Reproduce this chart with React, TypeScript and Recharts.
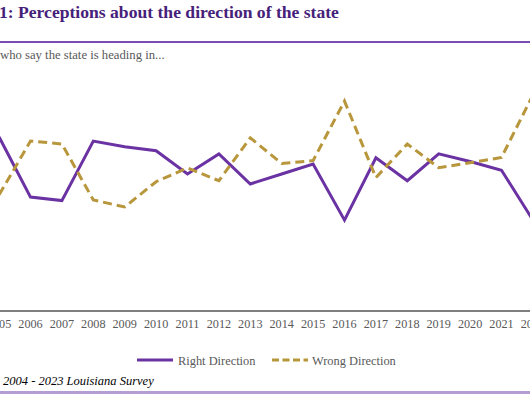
import React from 'react';
import { Line, LineChart, XAxis, YAxis } from 'recharts';

const YEARS = [2005, 2006, 2007, 2008, 2009, 2010, 2011, 2012, 2013, 2014, 2015, 2016, 2017, 2018, 2019, 2020, 2021, 2022];
const RIGHT_DIRECTION = [54.4, 35.6, 34.5, 53.1, 51.3, 50.1, 42.8, 49.1, 39.7, 42.8, 45.9, 28.4, 47.9, 40.7, 49.1, 46.7, 44.0, 28.4];
const WRONG_DIRECTION = [36.3, 53.1, 52.2, 34.7, 32.5, 40.4, 44.7, 40.7, 54.1, 46.1, 47.0, 65.6, 41.7, 52.2, 44.8, 46.3, 48.0, 67.5];
const TICK_YEARS = [2004, 2005, 2006, 2007, 2008, 2009, 2010, 2011, 2012, 2013, 2014, 2015, 2016, 2017, 2018, 2019, 2020, 2021, 2022, 2023];

const PURPLE = '#6A32A2';
const GOLD = '#B8963B';
const FONT = '"Liberation Serif", "Times New Roman", serif';

const data = YEARS.map((year, i) => ({
  year,
  right: RIGHT_DIRECTION[i],
  wrong: WRONG_DIRECTION[i],
}));

const App: React.FC = () => {
  return (
    <div
      style={{
        position: 'absolute',
        left: 0,
        top: 0,
        width: 530,
        height: 396,
        overflow: 'hidden',
        background: '#fff',
        fontFamily: FONT,
      }}
    >
      <div
        style={{
          position: 'absolute',
          left: -1,
          top: 4,
          fontSize: 17.6,
          lineHeight: '17.6px',
          fontWeight: 'bold',
          color: '#46217A',
          whiteSpace: 'nowrap',
        }}
      >
        1: Perceptions about the direction of the state
      </div>
      <div style={{ position: 'absolute', left: 0, top: 41, width: 530, height: 2, background: '#7A4DB3' }} />
      <div
        style={{
          position: 'absolute',
          left: 0,
          top: 48.5,
          fontSize: 12.7,
          lineHeight: '12.7px',
          color: '#595959',
          whiteSpace: 'nowrap',
        }}
      >
        who say the state is heading in...
      </div>

      <div style={{ position: 'absolute', left: -48, top: 55 }}>
        <LineChart width={628} height={300} data={data} margin={{ top: 0, right: 0, left: 0, bottom: 14 }}>
          <XAxis
            dataKey="year"
            type="number"
            domain={[2003.5, 2023.5]}
            ticks={TICK_YEARS}
            interval={0}
            allowDataOverflow
            tickLine={false}
            axisLine={{ stroke: '#7F7F7F', strokeWidth: 2 }}
            tick={{ fill: '#595959', fontSize: 12.2, fontFamily: FONT }}
            height={30}
          />
          <YAxis hide domain={[0, 80]} />
          <Line
            type="linear"
            dataKey="right"
            stroke={PURPLE}
            strokeWidth={3}
            dot={false}
            isAnimationActive={false}
          />
          <Line
            type="linear"
            dataKey="wrong"
            stroke={GOLD}
            strokeWidth={3}
            strokeDasharray="9 5"
            dot={false}
            isAnimationActive={false}
          />
        </LineChart>
      </div>

      <svg style={{ position: 'absolute', left: 0, top: 350 }} width={530} height={20}>
        <line x1={137} y1={10} x2={173} y2={10} stroke={PURPLE} strokeWidth={3} />
        <line x1={272} y1={10} x2={308} y2={10} stroke={GOLD} strokeWidth={3} strokeDasharray="7 3.5" />
        <text x={178} y={14.5} fontSize={12.4} fill="#595959" fontFamily={FONT}>Right Direction</text>
        <text x={312} y={14.5} fontSize={12.4} fill="#595959" fontFamily={FONT}>Wrong Direction</text>
      </svg>

      <div
        style={{
          position: 'absolute',
          left: 3,
          top: 374.5,
          fontSize: 12.5,
          lineHeight: '12.5px',
          fontStyle: 'italic',
          color: '#000',
          whiteSpace: 'nowrap',
        }}
      >
        2004 - 2023 Louisiana Survey
      </div>
      <div style={{ position: 'absolute', left: 0, top: 390.5, width: 530, height: 3, background: '#B39DD3' }} />
    </div>
  );
};

export default App;
